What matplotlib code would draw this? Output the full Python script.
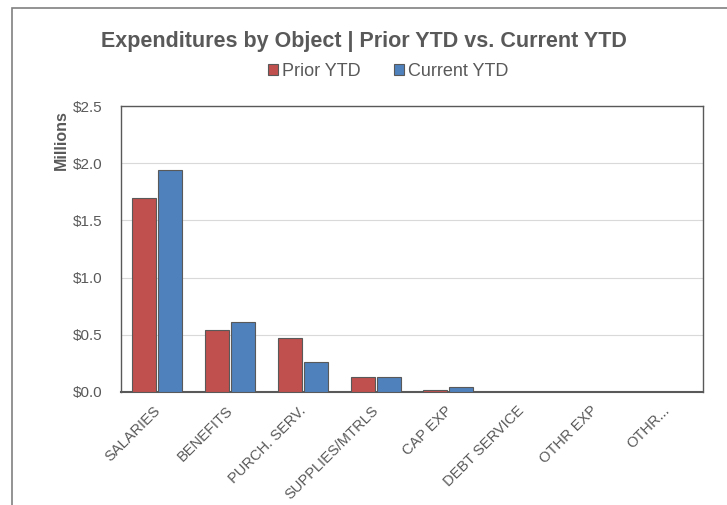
import matplotlib.pyplot as plt
import matplotlib.ticker as ticker
from matplotlib.patches import Rectangle
from matplotlib.transforms import ScaledTranslation
import numpy as np

plt.rcParams["font.family"] = ["Liberation Sans", "DejaVu Sans"]

# Data (millions of dollars)
categories = ["SALARIES", "BENEFITS", "PURCH. SERV.", "SUPPLIES/MTRLS",
              "CAP EXP", "DEBT SERVICE", "OTHR EXP", "OTHR..."]
prior_ytd = [1.70, 0.54, 0.47, 0.13, 0.015, 0.0, 0.003, 0.0]
current_ytd = [1.94, 0.61, 0.26, 0.135, 0.045, 0.0, 0.001, 0.0]
y_ticks = [0.0, 0.5, 1.0, 1.5, 2.0, 2.5]

text_col = "#595959"
red = "#C0504D"
blue = "#4F81BD"

fig = plt.figure(figsize=(7.27, 5.05), dpi=100)
ax = fig.add_axes([0.1664, 0.2238, 0.8006, 0.5662])

# outer chart border (runs past right/bottom of image)
fig.patches.append(Rectangle((12 / 727, -0.1), 1.2, 1 - 8 / 505 + 0.1,
                             transform=fig.transFigure, fill=False,
                             edgecolor="#808080", linewidth=1.2))

x = np.arange(len(categories))
w = 0.33
ax.bar(x - 0.18, prior_ytd, w, color=red, edgecolor="#595959",
       linewidth=0.8, label="Prior YTD", zorder=3)
ax.bar(x + 0.18, current_ytd, w, color=blue, edgecolor="#595959",
       linewidth=0.8, label="Current YTD", zorder=3)

ax.set_xlim(-0.5, len(categories) - 0.5)
ax.set_ylim(0, 2.5)
ax.set_yticks(y_ticks)
ax.yaxis.set_major_formatter(ticker.FuncFormatter(lambda v, p: f"${v:.1f}"))
ax.grid(axis="y", color="#d9d9d9", linewidth=0.8, zorder=0)
ax.tick_params(axis="y", length=0, labelsize=11, colors=text_col, pad=13)
ax.tick_params(axis="x", length=0, labelsize=10.5, colors=text_col, pad=6)
ax.set_xticks(x)
ax.set_xticklabels(categories, rotation=45, ha="right",
                   rotation_mode="anchor")
shift = ScaledTranslation(-0.04, -0.03, fig.dpi_scale_trans)
for lbl in ax.get_xticklabels():
    lbl.set_transform(lbl.get_transform() + shift)
for s in ax.spines.values():
    s.set_color("#595959")
    s.set_linewidth(1.0)
ax.spines["bottom"].set_linewidth(1.5)

fig.text(0.5, 0.917, "Expenditures by Object | Prior YTD vs. Current YTD",
         ha="center", va="center", fontsize=15.5, fontweight="bold",
         color=text_col)
fig.legend(loc="center", bbox_to_anchor=(0.534, 0.859), ncol=2,
           frameon=False, fontsize=13, handlelength=0.55, handleheight=0.55,
           handletextpad=0.2, columnspacing=1.9, labelcolor=text_col,
           borderpad=0)
fig.text(0.084, 0.722, "Millions", rotation=90, ha="center", va="center",
         fontsize=11.5, fontweight="bold", color=text_col)

plt.savefig("out.png", dpi=100)
